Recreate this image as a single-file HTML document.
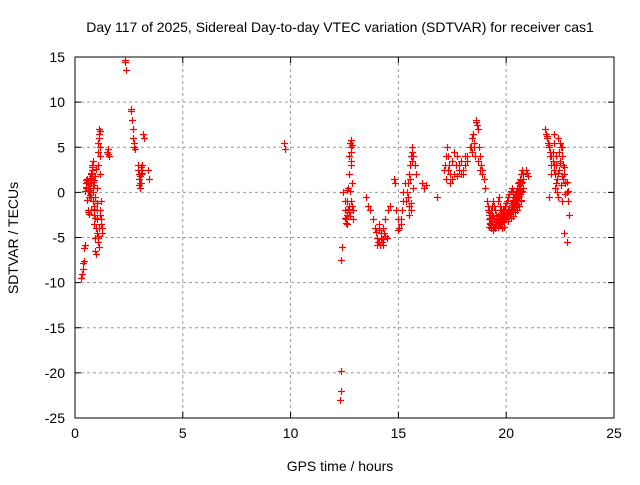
<!DOCTYPE html>
<html><head><meta charset="utf-8"><style>
body{margin:0;background:#fff;width:640px;height:480px;overflow:hidden}
text{font-family:"Liberation Sans",sans-serif;font-size:14px;fill:#000}
</style></head><body>
<svg id="chart" width="640" height="480" xmlns="http://www.w3.org/2000/svg">
<rect width="640" height="480" fill="#fff"/>
<g id="grid"></g>
<g id="axes"></g>
<g id="pts"></g>
<text x="340" y="32" text-anchor="middle">Day 117 of 2025, Sidereal Day-to-day VTEC variation (SDTVAR) for receiver cas1</text>
<text x="340" y="471" text-anchor="middle">GPS time / hours</text>
<text x="18" y="238" text-anchor="middle" transform="rotate(-90 18 238)">SDTVAR / TECUs</text>
</svg>
<script>
const xTicks=[0,5,10,15,20,25];
const yTicks=[15,10,5,0,-5,-10,-15,-20,-25];
const times=[0.30,0.32,0.35,0.38,0.40,0.42,0.45,0.48,0.50,0.52,0.55,0.58,0.60,0.62,0.65,0.68,0.70,0.72,0.75,0.78,0.80,0.82,0.85,0.88,0.90,0.92,0.95,0.98,1.00,1.02,1.05,1.08,1.10,1.12,1.15,1.18,1.20,1.22,1.25,
0.55,0.6,0.65,0.7,0.75,0.8,0.85,0.9,0.95,1.0,1.05,1.1,1.15,0.62,0.72,0.82,0.92,1.02,1.12,
0.5,0.55,0.6,0.65,0.7,0.75,0.8,0.85,0.9,0.95,1.0,1.05,1.1,1.15,1.2,0.58,0.68,0.78,0.88,0.98,1.08,1.18,0.52,0.66,0.76,0.86,0.96,1.06,1.16,1.24,
1.5,1.52,1.55,1.58,2.3,2.32,2.35,2.6,2.62,2.65,2.68,2.7,2.72,2.75,2.78,2.9,2.92,2.95,2.98,3.0,3.02,3.05,3.08,3.1,3.12,3.15,3.2,3.4,3.42,2.95,3.0,3.05,3.1,
9.7,9.72,12.3,12.32,12.34,12.36,12.38,
12.45,12.5,12.52,12.55,12.6,12.62,12.65,12.7,12.72,12.75,12.78,12.8,12.82,12.85,12.88,12.9,12.6,12.7,12.75,12.8,12.5,12.55,12.6,12.65,12.7,12.75,12.8,12.85,12.82,12.86,
13.5,13.6,13.7,13.8,13.9,14.0,14.1,14.2,14.3,14.4,14.5,14.6,14.0,14.2,14.4,14.1,14.3,14.05,14.15,14.25,14.35,14.45,14.1,14.2,14.3,14.4,13.95,
14.8,14.85,14.9,15.0,15.05,15.1,15.15,15.2,15.3,15.35,15.4,15.45,15.5,15.55,15.6,15.62,15.65,15.7,15.75,15.8,15.5,15.6,15.7,15.45,15.55,15.65,15.5,15.6,15.0,15.1,15.2,
16.1,16.2,16.3,16.8,17.1,17.15,17.2,17.25,17.3,17.35,17.4,17.5,17.6,17.65,17.7,17.8,17.9,18.0,18.1,18.2,18.3,17.4,17.7,18.0,18.2,17.2,17.3,17.5,17.6,17.8,17.9,18.1,
18.35,18.4,18.45,18.5,18.55,18.6,18.65,18.7,18.75,18.8,18.85,18.9,18.95,19.0,18.7,18.8,18.4,18.5,18.6,18.9,
19.1,19.15,19.2,19.25,19.3,19.35,19.4,19.45,19.5,19.55,19.6,19.65,19.7,19.75,19.8,19.85,19.9,19.95,20.0,20.05,20.1,20.15,20.2,20.25,20.3,20.35,20.4,20.45,20.5,20.55,20.6,20.65,20.7,20.75,20.8,
19.15,19.2,19.25,19.3,19.35,19.4,19.45,19.5,19.55,19.6,19.65,19.7,19.75,19.8,19.85,19.9,19.95,20.0,20.05,20.1,20.15,20.2,20.25,20.3,20.35,20.4,20.45,20.5,20.55,20.6,20.65,20.7,20.75,20.8,
19.2,19.3,19.4,19.5,19.6,19.7,19.8,19.9,20.0,20.1,20.2,20.3,20.4,20.5,20.6,20.7,20.8,20.9,20.95,21.0,
19.2,19.25,19.3,19.35,19.4,19.45,19.5,19.55,19.6,19.65,19.7,19.75,19.8,19.85,19.9,19.95,20.0,20.05,20.1,20.15,20.2,20.25,20.3,20.35,20.4,20.45,20.5,20.55,20.6,20.65,20.7,
19.22,19.32,19.42,19.52,19.62,19.72,19.82,19.92,20.02,20.12,20.22,20.32,20.42,20.52,20.62,20.72,
19.27,19.37,19.47,19.57,19.67,19.77,19.87,19.97,20.07,20.17,20.27,20.37,20.47,20.57,20.67,
21.8,21.85,21.9,21.95,22.0,22.05,22.1,22.15,22.2,22.25,22.3,22.35,22.4,22.45,22.5,22.55,22.6,22.65,22.7,22.75,22.8,22.85,22.9,22.0,22.1,22.2,22.3,22.4,22.5,22.6,22.7,22.8,22.05,22.25,22.45,22.65,
21.9,22.0,22.1,22.15,22.2,22.3,22.35,22.4,22.5,22.55,22.6,22.7,22.75,22.8,22.85,22.2,22.4,22.6];
const values=[-9.5,-9.0,-8.5,-7.8,-7.6,-6.2,-5.8,0.2,1.0,0.5,-0.8,-2.0,-2.2,-1.9,0.8,1.5,0.5,-0.5,1.0,2.0,2.5,1.2,-1.0,-2.5,-3.5,-5.0,-6.5,-4.0,-2.0,0.5,3.0,5.5,6.5,7.0,4.0,2.0,-1.0,-3.5,-4.5,
1.2,0.2,-0.5,0.8,1.5,3.0,0.5,-1.5,-2.8,-3.0,-5.5,-6.0,5.0,1.0,2.2,3.5,1.8,-1.2,6.0,
0.6,1.5,1.0,0.3,-0.3,2.0,1.8,0.0,0.8,-0.5,-4.5,-4.8,-4.0,-2.5,-3.0,0.5,1.6,2.8,1.4,-6.8,4.5,-2.0,1.4,-2.4,-2.0,-1.8,2.6,-5.0,6.8,-4.0,
4.5,4.8,4.2,4.0,14.7,14.4,13.6,9.2,9.0,8.0,7.0,6.0,5.5,5.0,4.8,3.0,2.5,2.0,1.5,1.0,0.5,1.0,2.0,3.0,2.5,6.5,6.0,2.5,1.5,0.8,1.8,2.8,2.2,
5.5,4.8,-23.0,-22.0,-19.8,-7.5,-6.0,
0.0,-1.0,-2.0,-3.0,-2.5,-1.0,0.5,2.0,4.0,5.5,5.8,5.0,3.0,1.0,-2.0,-3.0,-3.5,-1.5,0.2,3.5,
-2.8,-3.4,0.3,-1.8,-2.2,-2.6,4.5,5.2,-1.0,-1.5,
-0.5,-1.5,-2.0,-3.0,-4.0,-5.0,-5.5,-5.0,-4.0,-3.0,-2.0,-1.5,-5.8,-4.5,-4.8,-3.5,-5.2,-5.5,-5.8,-5.5,-4.5,-5.0,-4.2,-5.2,-5.8,-4.8,-4.4,
1.5,1.0,-2.0,-3.0,-4.0,-3.5,-2.0,0.0,1.0,-1.0,0.0,1.0,2.0,3.0,4.0,4.5,5.0,4.0,3.0,2.0,-1.5,-2.0,0.5,-0.5,1.5,3.5,-2.5,-1.2,-4.2,-3.0,-1.0,
1.0,0.5,0.8,-0.5,2.5,3.0,4.0,5.0,4.0,3.0,2.0,1.5,2.0,3.0,4.0,3.0,2.0,2.0,3.0,4.0,5.0,1.0,1.8,2.5,3.5,1.5,2.5,3.5,4.5,2.5,3.5,4.0,
5.0,6.0,6.5,5.0,4.0,8.0,7.5,7.0,5.0,4.0,3.0,2.0,1.5,0.5,3.5,2.5,4.5,5.5,7.8,2.5,
-1.0,-1.5,-2.0,-2.5,-3.0,-3.2,-3.5,-3.8,-3.5,-3.6,-3.8,-3.6,-3.5,-3.4,-3.3,-3.2,-3.2,-3.0,-2.8,-2.5,-2.4,-2.2,-2.0,-1.8,-1.6,-1.4,-1.2,-1.0,-0.8,-0.6,-0.4,-0.2,0.0,0.2,0.5,
-2.0,-2.5,-2.8,-2.0,-1.5,-1.0,-1.5,-2.0,-2.5,-1.0,-0.5,-1.5,-2.0,-2.2,-2.0,-1.8,-1.5,-1.2,-1.0,-0.5,-0.2,0.2,0.5,0.0,-0.5,-0.2,0.0,0.5,1.0,1.2,1.5,2.0,2.5,2.0,
-3.8,-4.0,-4.2,-4.0,-3.8,-2.5,-4.0,-3.8,-3.0,-3.2,-2.8,-2.6,-2.2,-2.0,-1.5,-1.0,1.5,2.5,2.2,1.8,
-3.0,-3.4,-3.6,-3.0,-2.6,-3.0,-3.2,-2.8,-2.6,-3.0,-3.0,-2.8,-2.6,-2.8,-2.6,-2.5,-2.4,-2.2,-2.0,-1.8,-1.6,-1.4,-1.0,-0.8,-0.6,-0.4,-0.2,0.2,0.4,0.8,1.0,
-2.2,-2.5,-2.8,-3.0,-3.2,-2.4,-2.8,-2.6,-2.3,-1.8,-1.2,-0.8,-0.6,-0.3,0.3,1.2,
-3.5,-3.8,-3.6,-3.2,-3.4,-3.4,-3.0,-2.8,-2.6,-2.4,-2.0,-1.8,-1.6,-1.3,-0.8,
7.0,6.5,6.0,5.5,5.0,4.5,4.0,3.5,3.0,2.0,1.0,0.0,-0.5,4.5,5.5,5.0,4.0,3.0,2.0,1.0,0.0,-1.0,-2.5,-0.5,2.0,5.5,3.0,6.0,3.5,-1.0,-4.5,-5.5,4.0,0.5,2.5,1.5,
6.2,5.2,3.0,4.5,2.5,4.0,1.5,2.2,3.2,0.8,1.8,2.8,-0.2,1.2,0.2,6.5,6.0,5.0];
const L=75,R=614,T=57,B=418;
const xS=v=>L+(v-0)/(25-0)*(R-L);
const yS=v=>B-(v-(-25))/(15-(-25))*(B-T);
const NS='http://www.w3.org/2000/svg';
const grid=document.getElementById('grid'),axes=document.getElementById('axes'),pts=document.getElementById('pts');
function mk(tag,attrs,parent){const e=document.createElementNS(NS,tag);for(const k in attrs)e.setAttribute(k,attrs[k]);parent.appendChild(e);return e;}
xTicks.forEach(t=>{const x=xS(t);
 if(t>0&&t<25){const g=mk('line',{x1:x,x2:x,y1:T,y2:B,stroke:'#999','stroke-dasharray':'3,3'},grid);}
 mk('line',{x1:x,x2:x,y1:B,y2:B-6,stroke:'#000'},axes);mk('line',{x1:x,x2:x,y1:T,y2:T+6,stroke:'#000'},axes);
 const tx=mk('text',{x:x,y:B+20,'text-anchor':'middle'},axes);tx.textContent=t;
 
 });
yTicks.forEach(t=>{const y=yS(t);
 if(t>-25&&t<15){const g=mk('line',{x1:L,x2:R,y1:y,y2:y,stroke:'#999','stroke-dasharray':'3,3'},grid);}
 mk('line',{x1:L,x2:L+6,y1:y,y2:y,stroke:'#000'},axes);mk('line',{x1:R,x2:R-6,y1:y,y2:y,stroke:'#000'},axes);
 const tx=mk('text',{x:L-10,y:y+5,'text-anchor':'end'},axes);tx.textContent=t;
 
 });
const fr=mk('rect',{x:L,y:T,width:R-L,height:B-T,fill:'none',stroke:'#000'},axes);


let d='';
times.forEach((t,i)=>{const x=Math.round(xS(t))+0.5,y=Math.round(yS(values[i]))+0.5;d+=`M${x-3.5} ${y}h7M${x} ${y-3.5}v7`;});
const p=mk('path',{d:d,stroke:'#f00','stroke-width':1.2,fill:'none'},pts);


</script>
</body></html>
